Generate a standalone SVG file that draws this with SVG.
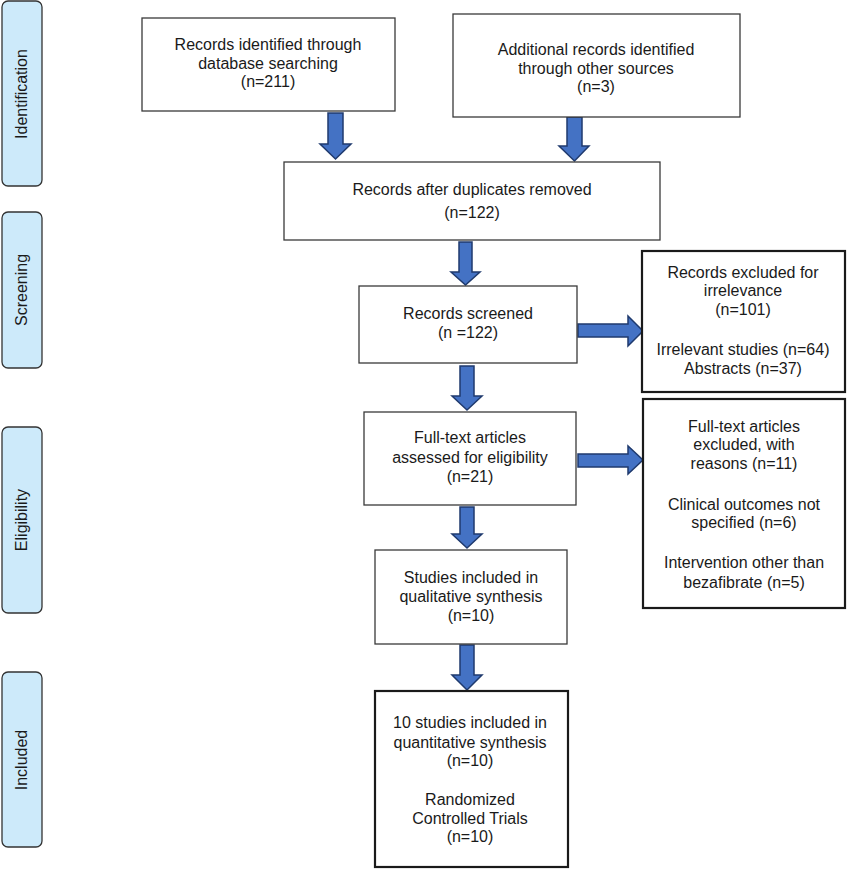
<svg xmlns="http://www.w3.org/2000/svg" width="847" height="869" viewBox="0 0 847 869">
<defs>
<style>
text{font-family:"Liberation Sans",Arial,sans-serif;font-size:16px;fill:#1a1a1a;text-anchor:middle}
.box{fill:#fff;stroke:#3a3a3a;stroke-width:1.3}
.thick{fill:#fff;stroke:#1a1a1a;stroke-width:2.2}
.side{fill:#cdeafa;stroke:#333;stroke-width:1.3}
.arr{fill:#4472c4;stroke:#1f3a6e;stroke-width:1.5;stroke-linejoin:miter}
</style>
</defs>
<rect width="847" height="869" fill="#fff"/>
<g id="side-identification"><rect class="side" x="2" y="1" width="40" height="185" rx="6"/><text transform="translate(27,94) rotate(-90)">Identification</text></g>
<g id="side-screening"><rect class="side" x="2" y="212" width="40" height="156" rx="6"/><text transform="translate(27,290) rotate(-90)">Screening</text></g>
<g id="side-eligibility"><rect class="side" x="2" y="427" width="40" height="186" rx="6"/><text transform="translate(27,520) rotate(-90)">Eligibility</text></g>
<g id="side-included"><rect class="side" x="2" y="672" width="40" height="175" rx="6"/><text transform="translate(27,760) rotate(-90)">Included</text></g>

<g id="connectors">
<path class="arr" d="M328,113 H343 V144 H351 L335.5,159 L320,144 H328 Z"/>
<path class="arr" d="M567,117 H582 V146 H589 L574.5,161 L559,146 H567 Z"/>
<path class="arr" d="M459,242 H472 V272 H480 L465.5,285 L451,272 H459 Z"/>
<path class="arr" d="M460,366 H474 V396 H482 L467,410 L452,396 H460 Z"/>
<path class="arr" d="M460,507 H474 V534 H482 L467,548 L452,534 H460 Z"/>
<path class="arr" d="M460,645 H474 V675 H482 L467,690 L452,675 H460 Z"/>
<path class="arr" d="M578,324 H628 V316 L643,331 L628,346 V337 H578 Z"/>
<path class="arr" d="M578,454 H628 V446 L643,460 L628,474 V467 H578 Z"/>
</g>

<g id="n1"><rect class="box" x="142" y="18" width="253" height="93"/><text x="268" y="50">Records identified through</text><text x="268" y="68.5">database searching</text><text x="268" y="87">(n=211)</text></g>
<g id="n2"><rect class="box" x="453" y="14" width="287" height="103"/><text x="596" y="55">Additional records identified</text><text x="596" y="73.5">through other sources</text><text x="596" y="92">(n=3)</text></g>
<g id="n3"><rect class="box" x="284" y="162" width="376" height="78"/><text x="472" y="195">Records after duplicates removed</text><text x="472" y="217.5">(n=122)</text></g>
<g id="n4"><rect class="box" x="359" y="286" width="218" height="77"/><text x="468" y="319">Records screened</text><text x="468" y="338">(n =122)</text></g>
<g id="n5"><rect class="thick" x="642" y="251" width="203" height="141"/><text x="743" y="277.5">Records excluded for</text><text x="743" y="296">irrelevance</text><text x="743" y="315">(n=101)</text><text x="743" y="355">Irrelevant studies (n=64)</text><text x="743" y="374">Abstracts (n=37)</text></g>
<g id="n6"><rect class="box" x="364" y="412" width="212" height="93"/><text x="470" y="443">Full-text articles</text><text x="470" y="462.5">assessed for eligibility</text><text x="470" y="482">(n=21)</text></g>
<g id="n7"><rect class="thick" x="643" y="399" width="202" height="209"/><text x="744" y="431.5">Full-text articles</text><text x="744" y="450">excluded, with</text><text x="744" y="469">reasons (n=11)</text><text x="744" y="509.5">Clinical outcomes not</text><text x="744" y="528">specified (n=6)</text><text x="744" y="568">Intervention other than</text><text x="744" y="587.5">bezafibrate (n=5)</text></g>
<g id="n8"><rect class="box" x="375" y="550" width="192" height="94"/><text x="471" y="583">Studies included in</text><text x="471" y="602">qualitative synthesis</text><text x="471" y="621">(n=10)</text></g>
<g id="n9"><rect class="thick" x="375" y="691" width="193" height="176"/><text x="470" y="728">10 studies included in</text><text x="470" y="747.5">quantitative synthesis</text><text x="470" y="766">(n=10)</text><text x="470" y="804.5">Randomized</text><text x="470" y="824">Controlled Trials</text><text x="470" y="842">(n=10)</text></g>
</svg>
